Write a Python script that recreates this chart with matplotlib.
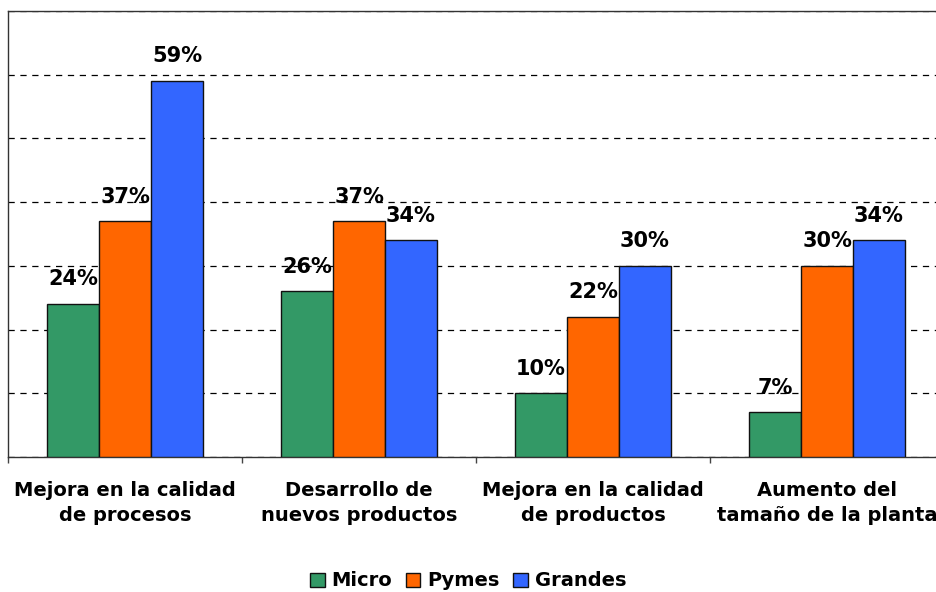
import matplotlib
matplotlib.use("Agg")
import matplotlib.pyplot as plt
from matplotlib.patches import Patch
import numpy as np

# DATA__________________________________________________________________________________________
categories = ['Mejora en la calidad\nde procesos', 'Desarrollo de\nnuevos productos',
              'Mejora en la calidad\nde productos', 'Aumento del\ntamaño de la planta']
series = ['Micro', 'Pymes', 'Grandes']
micro = [24, 26, 10, 7]
pymes = [37, 37, 22, 30]
grandes = [59, 34, 30, 34]
colors = ['#339966', '#FF6600', '#3366FF']

plt.rcParams['font.family'] = ['DejaVu Sans']
plt.rcParams['font.weight'] = 'bold'

fig = plt.figure(figsize=(9.36, 5.92), dpi=100)
ax = fig.add_axes([8 / 936, 1 - 457 / 592, 936 / 936, (457 - 11) / 592])

x = np.arange(len(categories))
w = 0.222
for i, vals in enumerate([micro, pymes, grandes]):
    bars = ax.bar(x + (i - 1) * w, vals, width=w, color=colors[i], edgecolor='#111111',
                  linewidth=1.0, zorder=3)
    for b, v in zip(bars, vals):
        ax.annotate(f'{v}%', (b.get_x() + b.get_width() / 2, v), xytext=(0, 13.5),
                    textcoords='offset points', ha='center', va='baseline',
                    fontsize=15, fontweight='bold', zorder=4)

ax.set_xlim(-0.5, 3.5)
ax.set_ylim(0, 70)
ax.set_yticks(np.arange(0, 71, 10))
ax.set_yticklabels([])
ax.tick_params(axis='y', length=0)
ax.yaxis.grid(True, color='black', linestyle=(0, (5, 4.5)), linewidth=0.9, zorder=0)

ax.set_xticks(np.arange(-0.5, 3.6, 1))
ax.set_xticklabels([])
ax.tick_params(axis='x', which='major', length=4, width=1, color='#444444', direction='out')
ax.set_xticks(x, categories, minor=True)
ax.tick_params(axis='x', which='minor', length=0, pad=17, labelsize=14)
for lab in ax.get_xticklabels(minor=True):
    lab.set_fontweight('bold')
    lab.set_linespacing(1.45)

for s in ['left', 'bottom', 'top']:
    ax.spines[s].set_color('#333333')
    ax.spines[s].set_linewidth(1.0)
ax.spines['right'].set_visible(False)

handles = [Patch(facecolor=c, edgecolor='#111111', linewidth=1.0) for c in colors]
fig.legend(handles, series, loc='center', bbox_to_anchor=(468 / 936, 1 - 581 / 592), ncol=3,
           frameon=False, handlelength=0.75, handleheight=0.75,
           handletextpad=0.35, columnspacing=0.7, prop={'weight': 'bold', 'size': 14})

fig.savefig('out.png', dpi=100)
